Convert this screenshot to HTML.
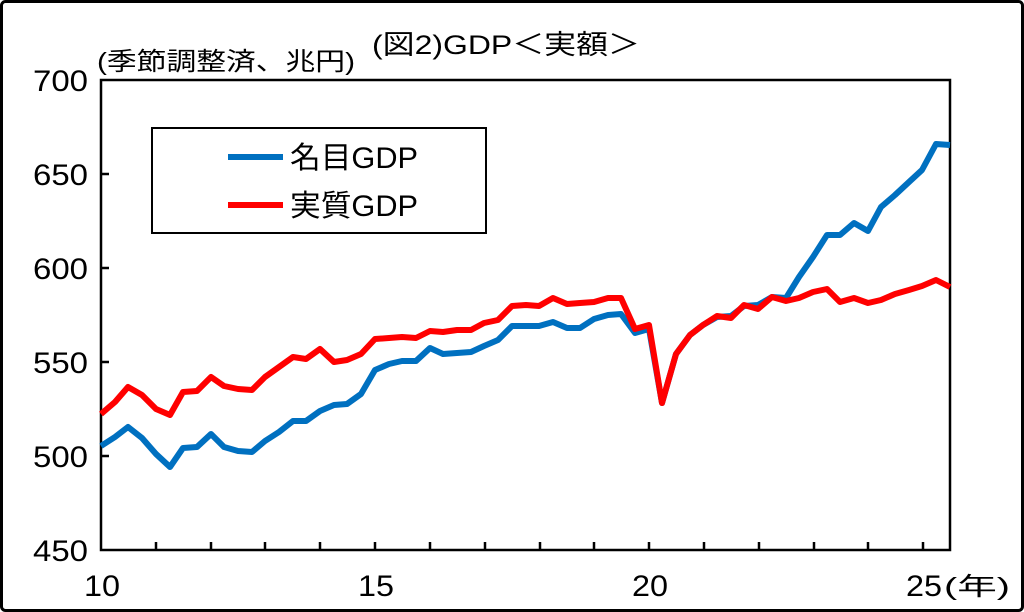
<!DOCTYPE html>
<html><head><meta charset="utf-8"><style>
html,body{margin:0;padding:0;background:#fff;}
svg{display:block;font-family:"Liberation Sans","Noto Sans CJK JP",sans-serif;}
</style></head><body>
<svg width="1024" height="612" viewBox="0 0 1024 612" xmlns="http://www.w3.org/2000/svg">
<rect x="1.5" y="1.5" width="1021" height="609" rx="4" fill="#fff" stroke="#000" stroke-width="3"/>
<text x="372" y="54" font-size="27" textLength="268" lengthAdjust="spacingAndGlyphs">(図2)GDP＜実額＞</text>
<text x="97" y="70" font-size="25" textLength="258" lengthAdjust="spacingAndGlyphs">(季節調整済、兆円)</text>
<g font-size="30">
<text x="33" y="91" textLength="55" lengthAdjust="spacingAndGlyphs">700</text>
<text x="33" y="185" textLength="55" lengthAdjust="spacingAndGlyphs">650</text>
<text x="33" y="279" textLength="55" lengthAdjust="spacingAndGlyphs">600</text>
<text x="33" y="373" textLength="55" lengthAdjust="spacingAndGlyphs">550</text>
<text x="33" y="467" textLength="55" lengthAdjust="spacingAndGlyphs">500</text>
<text x="33" y="561" textLength="55" lengthAdjust="spacingAndGlyphs">450</text>
</g>
<g font-size="30">
<text x="84" y="596" textLength="36" lengthAdjust="spacingAndGlyphs">10</text>
<text x="358" y="596" textLength="36" lengthAdjust="spacingAndGlyphs">15</text>
<text x="632" y="596" textLength="36" lengthAdjust="spacingAndGlyphs">20</text>
<text x="906" y="596" textLength="36" lengthAdjust="spacingAndGlyphs">25</text>
</g>
<text x="944" y="595" font-size="25" textLength="66" lengthAdjust="spacingAndGlyphs">(年)</text>
<g stroke="#000" stroke-width="2.5" fill="none">
<rect x="101" y="80" width="849" height="470"/>
<path d="M101 174h8M101 268h8M101 362h8M101 456h8"/>
<path d="M156 550v-8M211 550v-8M265 550v-8M320 550v-8M375 550v-8M430 550v-8M485 550v-8M540 550v-8M594 550v-8M649 550v-8M704 550v-8M759 550v-8M814 550v-8M868 550v-8M923 550v-8"/>
</g>
<g fill="none" stroke-width="6" stroke-linejoin="round">
<polyline stroke="#0070C0" points="101,446 115,437 128,427 142,438 156,454 170,467 183,448 197,447 211,434 224,447 238,451 252,452 265,441 279,432 293,421 306,421 320,411 334,405 347,404 361,394 375,370 389,364 402,361 416,361 430,348 443,354 457,353 471,352 484,346 498,340 512,326 526,326 539,326 553,322 567,328 580,328 594,319 608,315 621,314 635,333 649,329 662,403 676,354 690,335 703,325 717,317 731,316 744,306 758,305 772,297 786,298 799,277 813,257 827,235 840,235 854,223 868,231 881,207 895,195 909,182 922,170 936,144 950,145"/>
<polyline stroke="#FF0000" points="101,414 115,402 128,387 142,395 156,409 170,415 183,392 197,391 211,377 224,386 238,389 252,390 265,377 279,367 293,357 306,359 320,349 334,362 347,360 361,354 375,339 389,338 402,337 416,338 430,331 443,332 457,330 471,330 484,323 498,320 512,306 526,305 539,306 553,298 567,304 580,303 594,302 608,298 621,298 635,329 649,325 662,403 676,354 690,335 703,325 717,316 731,318 744,305 758,309 772,297 786,301 799,298 813,292 827,289 840,302 854,298 868,303 881,300 895,294 909,290 922,286 936,280 950,287"/>
</g>
<rect x="152" y="128" width="334" height="105" fill="#fff" stroke="#000" stroke-width="2"/>
<line x1="228" y1="157" x2="283" y2="157" stroke="#0070C0" stroke-width="6"/>
<line x1="228" y1="205" x2="283" y2="205" stroke="#FF0000" stroke-width="6"/>
<text x="290" y="168" font-size="30" textLength="128" lengthAdjust="spacingAndGlyphs">名目GDP</text>
<text x="290" y="216" font-size="30" textLength="128" lengthAdjust="spacingAndGlyphs">実質GDP</text>
</svg>
</body></html>
